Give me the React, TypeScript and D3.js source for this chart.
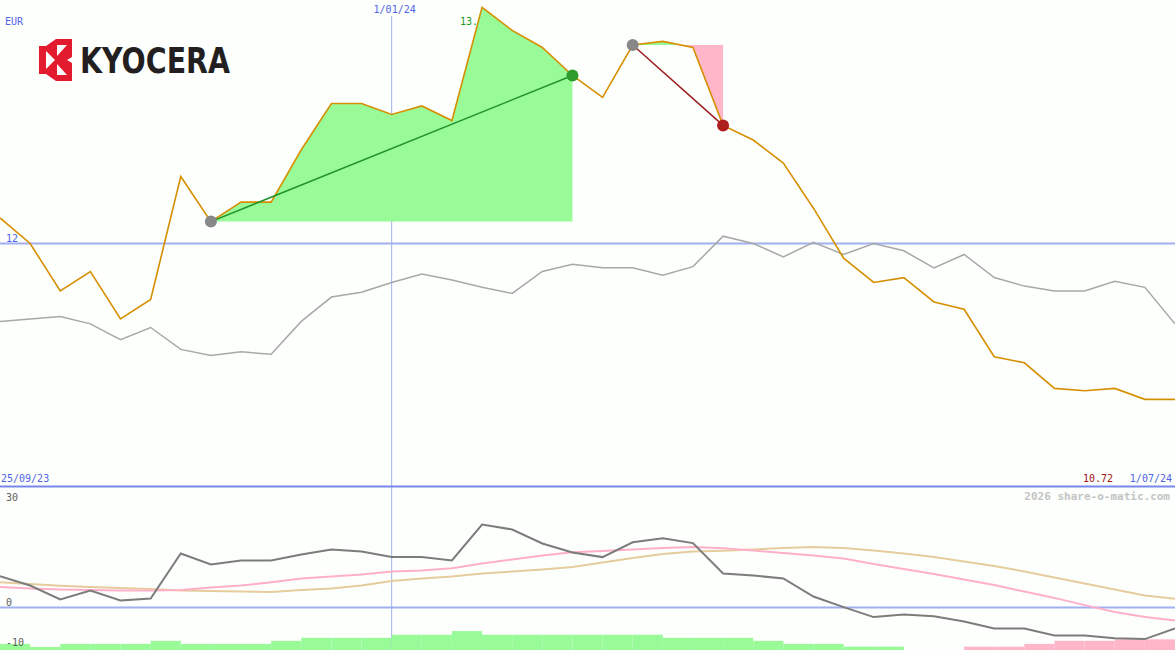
import React from 'react'
import * as d3 from 'd3'

// weekly closes (EUR), 25/09/23 .. 1/07/24
const price = [
  12.21, 12.0, 11.61, 11.77, 11.38, 11.54, 12.55, 12.18, 12.34, 12.34,
  12.77, 13.15, 13.15, 13.06, 13.13, 13.01, 13.94, 13.75, 13.61, 13.38,
  13.2, 13.63, 13.66, 13.61, 12.97, 12.85, 12.66, 12.29, 11.88, 11.68,
  11.72, 11.52, 11.46, 11.07, 11.02, 10.81, 10.79, 10.81, 10.72, 10.72,
]

// benchmark, rebased
const bench = [
  11.36, 11.38, 11.4, 11.34, 11.21, 11.31, 11.13, 11.08, 11.11, 11.09,
  11.36, 11.56, 11.6, 11.68, 11.75, 11.7, 11.64, 11.59, 11.77, 11.83,
  11.8, 11.8, 11.74, 11.81, 12.06, 12.0, 11.89, 12.01, 11.91, 12.0,
  11.94, 11.8, 11.91, 11.72, 11.65, 11.61, 11.61, 11.69, 11.64, 11.34,
]

const momentum = [
  7.8, 5.5, 2.0, 4.25, 1.75, 2.25, 13.5, 10.75, 11.75, 11.75,
  13.25, 14.5, 14.0, 12.6, 12.6, 11.75, 20.75, 19.5, 16.0, 13.75,
  12.6, 16.3, 17.3, 16.1, 8.5, 8.0, 7.25, 2.75, 0.1, -2.4,
  -1.75, -2.2, -3.5, -5.25, -5.25, -7.0, -7.0, -7.7, -7.9, -5.25,
]

const fastAvg = [
  5.1, 4.75, 4.5, 4.4, 4.25, 4.25, 4.4, 5.0, 5.5, 6.3,
  7.25, 7.75, 8.25, 9.0, 9.25, 9.8, 11.0, 12.0, 13.0, 13.8,
  14.1, 14.5, 14.9, 15.1, 14.8, 14.25, 13.6, 13.0, 12.25, 10.9,
  9.6, 8.4, 7.0, 5.6, 4.0, 2.4, 0.6, -1.1, -2.4, -3.25,
]

const slowAvg = [
  6.3, 5.9, 5.45, 5.1, 4.9, 4.6, 4.25, 4.1, 4.0, 3.9,
  4.4, 4.75, 5.5, 6.6, 7.25, 7.75, 8.5, 9.0, 9.5, 10.1,
  11.25, 12.4, 13.4, 14.0, 14.2, 14.5, 14.9, 15.1, 14.9, 14.25,
  13.5, 12.6, 11.5, 10.4, 9.0, 7.5, 6.0, 4.5, 3.0, 2.2,
]

// one bar per week
const histogram = [
  2, 1, 2, 2, 2, 3, 2, 2, 2, 3,
  4, 4, 4, 5, 5, 6.2, 5, 5, 5, 5,
  5, 5, 4, 4, 4, 3, 2, 2, 1.1, 1.1,
  0, 0, -1.1, -1.1, -2, -3, -3, -3.5, -3.5,
]

const dateLabels = ['25/09/23', '1/01/24', '1/07/24']
const gridIndex = 13
const priceTicks = [12]
const lowerTicks = [30, 0, -10]
const upTrend = [7, 19]
const downTrend = [21, 24]

const W = 1175
const H = 650
const mono = '"DejaVu Sans Mono", monospace'

const App: React.FunctionComponent = () => {
  const reference = React.useRef<SVGSVGElement>(null)

  React.useEffect(() => {
    const svg = d3.select(reference.current)
    svg.selectAll('*').remove()

    const x = d3.scaleLinear().domain([0, price.length - 1]).range([0, W])
    const y = d3.scaleLinear().domain([10, 14]).range([487, 0])
    const y2 = d3.scaleLinear().domain([-10.625, 30]).range([H, 487.5])
    const barH = d3.scaleLinear().domain([0, 10]).range([0, 30.5])

    svg.append('rect').attr('width', W).attr('height', H).attr('fill', '#fdfffd')

    // logo
    const logo = svg.append('g')
    logo
      .append('polygon')
      .attr('points', '46,46 56,39 72,39 72,57 67,60 72,63 72,81 56,81 46,74 39,74 39,46')
      .attr('fill', '#e31b2f')
    logo.append('polygon').attr('points', '46,51 55,60 46,69').attr('fill', '#fff')
    logo.append('polygon').attr('points', '57,45 67,45 57,56').attr('fill', '#fff')
    logo.append('polygon').attr('points', '57,64 67,75 57,75').attr('fill', '#fff')
    logo
      .append('text')
      .attr('x', 80)
      .attr('y', 73)
      .attr('textLength', 150)
      .attr('lengthAdjust', 'spacingAndGlyphs')
      .attr('font-family', '"DejaVu Sans", sans-serif')
      .attr('font-weight', 'bold')
      .attr('font-size', 36)
      .attr('fill', '#231f20')
      .text('KYOCERA')

    const label = (tx: number, ty: number, txt: string, fill: string, anchor = 'start') =>
      svg
        .append('text')
        .attr('x', tx)
        .attr('y', ty)
        .attr('text-anchor', anchor)
        .attr('font-family', mono)
        .attr('font-size', 10)
        .attr('fill', fill)
        .text(txt)

    // grid
    svg
      .append('line')
      .attr('x1', x(gridIndex))
      .attr('x2', x(gridIndex))
      .attr('y1', 16)
      .attr('y2', H)
      .attr('stroke', '#a0b0f0')
      .attr('stroke-width', 1)

    priceTicks.forEach(t => {
      svg
        .append('line')
        .attr('x1', 0)
        .attr('x2', W)
        .attr('y1', y(t))
        .attr('y2', y(t))
        .attr('stroke', '#a0b0f0')
        .attr('stroke-width', 2)
      label(6, y(t) - 2, String(t), '#5064e6')
    })

    svg
      .append('line')
      .attr('x1', 0)
      .attr('x2', W)
      .attr('y1', y2(0))
      .attr('y2', y2(0))
      .attr('stroke', '#a0b0f0')
      .attr('stroke-width', 2)

    svg
      .append('line')
      .attr('x1', 0)
      .attr('x2', W)
      .attr('y1', 486.5)
      .attr('y2', 486.5)
      .attr('stroke', '#7888ea')
      .attr('stroke-width', 2)

    label(5, 25, 'EUR', '#5064e6')
    label(x(gridIndex) + 3, 13, dateLabels[1], '#5064e6', 'middle')
    label(1, 482, dateLabels[0], '#5064e6')
    label(W - 3, 482, dateLabels[2], '#5064e6', 'end')
    label(1113, 482, d3.format('.2f')(price[price.length - 1]), '#a01414', 'end')
    label(460, 25, d3.format('.2f')(d3.max(price) as number), '#1c9c1c')

    svg
      .append('text')
      .attr('x', 1170)
      .attr('y', 500)
      .attr('text-anchor', 'end')
      .attr('font-family', mono)
      .attr('font-weight', 'bold')
      .attr('font-size', 11)
      .attr('fill', '#c4c4c4')
      .text('2026 share-o-matic.com')

    // trend fills
    const idx = d3.range(price.length)
    const up = idx.filter(i => i >= upTrend[0] && i <= upTrend[1])
    const base1 = y(price[upTrend[0]])
    svg
      .append('path')
      .datum(up)
      .attr('d', d3.area<number>().x(i => x(i)).y0(base1).y1(i => y(price[i])))
      .attr('fill', '#98fb98')

    const down = idx.filter(i => i >= downTrend[0] && i <= downTrend[1])
    const base2 = y(price[downTrend[0]])
    const defs = svg.append('defs')
    defs
      .append('clipPath')
      .attr('id', 'above')
      .append('rect')
      .attr('x', 0)
      .attr('y', 0)
      .attr('width', W)
      .attr('height', base2)
    defs
      .append('clipPath')
      .attr('id', 'below')
      .append('rect')
      .attr('x', 0)
      .attr('y', base2)
      .attr('width', W)
      .attr('height', H)
    const area2 = d3.area<number>().x(i => x(i)).y0(base2).y1(i => y(price[i]))
    svg.append('path').datum(down).attr('d', area2).attr('fill', '#98fb98').attr('clip-path', 'url(#above)')
    svg.append('path').datum(down).attr('d', area2).attr('fill', '#ffb6c8').attr('clip-path', 'url(#below)')

    // upper lines
    const line = (vals: number[], sy: d3.ScaleLinear<number, number>) =>
      d3.line<number>().x((_, i) => x(i)).y(v => sy(v))(vals)

    svg
      .append('path')
      .attr('d', line(bench, y))
      .attr('fill', 'none')
      .attr('stroke', '#a8a8a8')
      .attr('stroke-width', 1.5)
    svg
      .append('path')
      .attr('d', line(price, y))
      .attr('fill', 'none')
      .attr('stroke', '#d68f00')
      .attr('stroke-width', 1.6)

    svg
      .append('line')
      .attr('x1', x(upTrend[0]))
      .attr('y1', y(price[upTrend[0]]))
      .attr('x2', x(upTrend[1]))
      .attr('y2', y(price[upTrend[1]]))
      .attr('stroke', '#22922a')
      .attr('stroke-width', 1.5)
    svg
      .append('line')
      .attr('x1', x(downTrend[0]))
      .attr('y1', y(price[downTrend[0]]))
      .attr('x2', x(downTrend[1]))
      .attr('y2', y(price[downTrend[1]]))
      .attr('stroke', '#9a1c1c')
      .attr('stroke-width', 1.5)

    const dot = (i: number, fill: string) =>
      svg
        .append('circle')
        .attr('cx', x(i))
        .attr('cy', y(price[i]))
        .attr('r', 6)
        .attr('fill', fill)
    dot(upTrend[0], '#888888')
    dot(upTrend[1], '#2c9c2c')
    dot(downTrend[0], '#888888')
    dot(downTrend[1], '#ae1e1e')

    // lower panel
    svg
      .selectAll('rect.bar')
      .data(histogram)
      .join('rect')
      .attr('class', 'bar')
      .attr('x', (_, i) => x(i))
      .attr('width', (_, i) => x(i + 1) - x(i))
      .attr('y', v => H - barH(Math.abs(v)))
      .attr('height', v => barH(Math.abs(v)))
      .attr('fill', v => (v >= 0 ? '#98fb98' : '#ffb6c8'))

    svg
      .append('path')
      .attr('d', line(slowAvg, y2))
      .attr('fill', 'none')
      .attr('stroke', '#e6cc9c')
      .attr('stroke-width', 2)
    svg
      .append('path')
      .attr('d', line(fastAvg, y2))
      .attr('fill', 'none')
      .attr('stroke', '#ffb0c8')
      .attr('stroke-width', 2)
    svg
      .append('path')
      .attr('d', line(momentum, y2))
      .attr('fill', 'none')
      .attr('stroke', '#7c7c7c')
      .attr('stroke-width', 2)

    lowerTicks.forEach(t => {
      const ty = t === 30 ? y2(t) + 13 : y2(t) - 2
      label(6, ty, String(t), '#606060')
    })
  }, [])

  return (
    <svg
      ref={reference}
      width={W}
      height={H}
      style={{ position: 'absolute', left: 0, top: 0 }}
    />
  )
}

export default App
